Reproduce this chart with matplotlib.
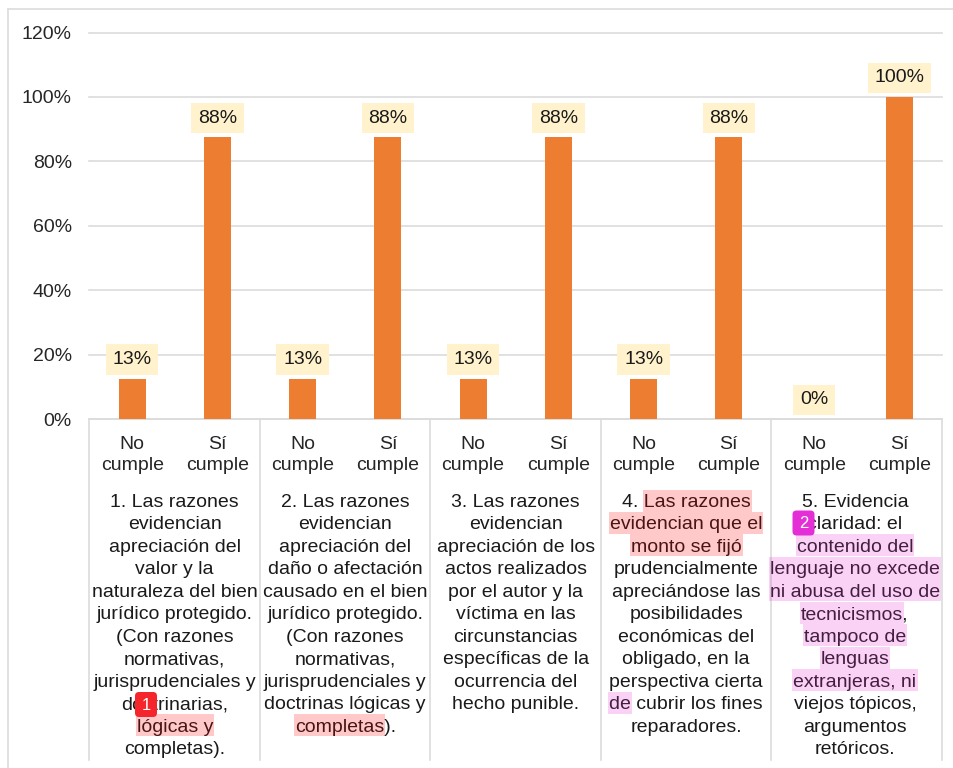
import matplotlib
matplotlib.use('Agg')
import matplotlib.pyplot as plt
from matplotlib.lines import Line2D
from matplotlib.patches import FancyBboxPatch, Rectangle
from matplotlib.transforms import IdentityTransform

plt.rcParams['font.family'] = ['Liberation Sans', 'DejaVu Sans']

W, H = 954, 768
FONT = 14

# --- Data --- #
categories = ['No\ncumple', 'Sí\ncumple'] * 5
values = [12.5, 87.5, 12.5, 87.5, 12.5, 87.5, 12.5, 87.5, 0, 100]
value_labels = ['13%', '88%', '13%', '88%', '13%', '88%', '13%', '88%', '0%', '100%']
y_ticks = [0, 20, 40, 60, 80, 100, 120]
y_tick_labels = ['0%', '20%', '40%', '60%', '80%', '100%', '120%']

group_lines = [
    ['1. Las razones', 'evidencian', 'apreciación del', 'valor y la', 'naturaleza del bien',
     'jurídico protegido.', '(Con razones', 'normativas,', 'jurisprudenciales y',
     'doctrinarias,', 'lógicas y', 'completas).'],
    ['2. Las razones', 'evidencian', 'apreciación del', 'daño o afectación', 'causado en el bien',
     'jurídico protegido.', '(Con razones', 'normativas,', 'jurisprudenciales y',
     'doctrinas lógicas y', 'completas).'],
    ['3. Las razones', 'evidencian', 'apreciación de los', 'actos realizados', 'por el autor y la',
     'víctima en las', 'circunstancias', 'específicas de la', 'ocurrencia del', 'hecho punible.'],
    ['4. Las razones', 'evidencian que el', 'monto se fijó', 'prudencialmente', 'apreciándose las',
     'posibilidades', 'económicas del', 'obligado, en la', 'perspectiva cierta',
     'de cubrir los fines', 'reparadores.'],
    ['5. Evidencia', 'claridad: el', 'contenido del', 'lenguaje no excede', 'ni abusa del uso de',
     'tecnicismos,', 'tampoco de', 'lenguas', 'extranjeras, ni', 'viejos tópicos,',
     'argumentos', 'retóricos.'],
]

# group, line, highlighted part
red_marks = [(0, 10, 'lógicas y'), (1, 10, 'completas'), (3, 0, 'Las razones'),
             (3, 1, 'evidencian que el'), (3, 2, 'monto se fijó')]
pink_marks = [(3, 9, 'de'), (4, 2, 'contenido del'), (4, 3, 'lenguaje no excede'),
              (4, 4, 'ni abusa del uso de'), (4, 5, 'tecnicismos'), (4, 6, 'tampoco de'),
              (4, 7, 'lenguas'), (4, 8, 'extranjeras, ni')]

# --- Chart --- #
fig = plt.figure(figsize=(W / 100, H / 100), dpi=100)
ax = fig.add_axes([89.5 / W, (H - 419) / H, 852.5 / W, 386.5 / H])

x = list(range(len(values)))
ax.bar(x, values, width=0.317, color='#ed7d31', zorder=3)
ax.set_xlim(-0.5, 9.5)
ax.set_ylim(0, 120)
ax.set_yticks(y_ticks)
ax.set_yticklabels(y_tick_labels, fontsize=FONT, color='#262626')
ax.set_xticks(x)
ax.set_xticklabels(categories, fontsize=FONT, color='#262626', linespacing=1.34)
ax.tick_params(axis='y', length=0, pad=12.6)
ax.tick_params(axis='x', length=0, pad=12)
ax.grid(axis='y', color='#dcdcdc', linewidth=1.2, zorder=0)
for gl in ax.get_ygridlines():
    gl.set_clip_on(False)
for name in ['top', 'right', 'left']:
    ax.spines[name].set_visible(False)
ax.spines['bottom'].set_color('#dcdcdc')
ax.spines['bottom'].set_linewidth(1.2)

for xi, v, lab in zip(x, values, value_labels):
    ax.annotate(lab, (xi, v), xytext=(0, 13.8), textcoords='offset points',
                ha='center', va='center', fontsize=FONT, color='#1a1a1a', zorder=4,
                bbox=dict(boxstyle='square,pad=0.34', facecolor='#fff2cc', edgecolor='none'))


# pixel helpers, measured from the top left corner like the screenshot
def px(xp, yp):
    return xp / W, 1 - yp / H


def add_vline(xp, y0, y1):
    fig.add_artist(Line2D([xp / W, xp / W], [1 - y0 / H, 1 - y1 / H], color='#dcdcdc', linewidth=1.2))


# Group separators and outer frame
for i in range(6):
    add_vline((89.5 + 170.5 * i), 419, 760)
add_vline(8.5, 9, 768)
fig.add_artist(Line2D([8.5 / W, 1], [1 - 9 / H, 1 - 9 / H], color='#dcdcdc', linewidth=1.2))

# Long category text under each group, one line at a time
renderer = fig.canvas.get_renderer()


def text_width(s):
    t = fig.text(0, 0, s + '|', fontsize=FONT)
    w = t.get_window_extent(renderer).width
    t.remove()
    t = fig.text(0, 0, '|', fontsize=FONT)
    w -= t.get_window_extent(renderer).width
    t.remove()
    return w


first_center = 500.5
line_step = 22.45
group_centers = [174.75, 345.25, 515.75, 686.25, 855]


def line_y(j):
    return first_center + j * line_step


# The highlights lie over the text and tint it, as in the screenshot
def mark(group, j, part, color):
    line = group_lines[group][j]
    total = text_width(line)
    start = group_centers[group] - total / 2 + text_width(line[:line.index(part)])
    fig.add_artist(Rectangle(px(start - 1, line_y(j) + 11), (text_width(part) + 2) / W, 22 / H,
                             transform=fig.transFigure, facecolor=color, alpha=0.21,
                             edgecolor='none', zorder=3))


for g, j, part in red_marks:
    mark(g, j, part, '#ff0000')
for g, j, part in pink_marks:
    mark(g, j, part, '#e52fd6')

for g, lines in enumerate(group_lines):
    for j, line in enumerate(lines):
        xf, yf = px(group_centers[g], line_y(j) + 6.5)
        fig.text(xf, yf, line, ha='center', va='baseline', fontsize=FONT, color='#1a1a1a', zorder=2)

# Comment badges on top of the text
for num, cx, cy, color in [('1', 146, 704.5, '#f5262b'), ('2', 803.5, 523, '#e52fd6')]:
    fig.add_artist(FancyBboxPatch((cx - 11, H - cy - 12.5), 22, 25, transform=IdentityTransform(),
                                  boxstyle='round,pad=0,rounding_size=4',
                                  facecolor=color, edgecolor='none', zorder=5))
    xf, yf = px(cx, cy + 0.5)
    fig.text(xf, yf, num, ha='center', va='center', fontsize=12, color='white', zorder=6)

fig.savefig('out.png', dpi=100, facecolor='white')
